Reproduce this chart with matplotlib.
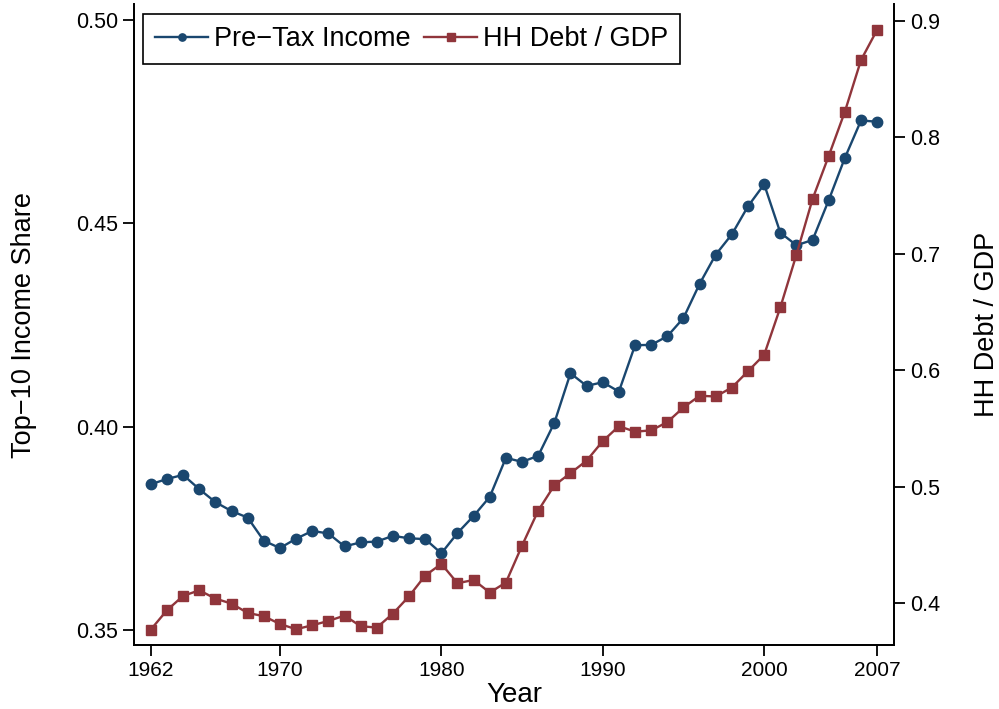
import numpy as np
import matplotlib.pyplot as plt

plt.rcParams['font.family'] = ['Liberation Sans', 'DejaVu Sans']

years = np.arange(1962, 2008)

# top-10 pre-tax income share (left axis)
income_share = [0.3858, 0.3871, 0.3881, 0.3846, 0.3814, 0.3792, 0.3776, 0.3719, 0.3701, 0.3724,
                0.3743, 0.3737, 0.3705, 0.3715, 0.3717, 0.3731, 0.3725, 0.3723, 0.3688, 0.3738,
                0.3780, 0.3827, 0.3923, 0.3913, 0.3928, 0.4009, 0.4131, 0.4100, 0.4109, 0.4086,
                0.4200, 0.4201, 0.4222, 0.4267, 0.4351, 0.4423, 0.4473, 0.4542, 0.4596, 0.4477,
                0.4446, 0.4459, 0.4557, 0.4661, 0.4753, 0.4750]

# household debt / GDP (right axis)
hh_debt = [0.3774, 0.3940, 0.4063, 0.4111, 0.4040, 0.3997, 0.3917, 0.3889, 0.3822, 0.3777,
           0.3811, 0.3848, 0.3894, 0.3803, 0.3791, 0.3911, 0.4060, 0.4238, 0.4338, 0.4172,
           0.4200, 0.4092, 0.4178, 0.4495, 0.4795, 0.5012, 0.5117, 0.5224, 0.5392, 0.5520,
           0.5473, 0.5484, 0.5555, 0.5681, 0.5781, 0.5775, 0.5852, 0.5992, 0.6133, 0.6539,
           0.6993, 0.7471, 0.7840, 0.8220, 0.8663, 0.8923]

xticks = [1962, 1970, 1980, 1990, 2000, 2007]
left_ticks = [0.35, 0.40, 0.45, 0.50]
right_ticks = [0.4, 0.5, 0.6, 0.7, 0.8, 0.9]

navy = '#1a476f'
maroon = '#90353b'

fig = plt.figure(figsize=(9.99, 7.09), dpi=100)
ax = fig.add_axes([0.134, 0.090, 0.761, 0.904])
ax2 = ax.twinx()

l1, = ax.plot(years, income_share, color=navy, lw=1.7, marker='o', ms=7.5,
              label='Pre\u2212Tax Income')
l2, = ax2.plot(years, hh_debt, color=maroon, lw=1.7, marker='s', ms=7.5,
               label='HH Debt / GDP')

ax.set_xlim(1960.95, 2008.05)
ax.set_ylim(0.3462, 0.5039)
ax2.set_ylim(0.364, 0.9142)

ax.set_xticks(xticks)
ax.set_yticks(left_ticks)
ax.set_yticklabels(['%.2f' % t for t in left_ticks])
ax2.set_yticks(right_ticks)
ax2.set_yticklabels(['%.1f' % t for t in right_ticks])

for a in (ax, ax2):
    a.tick_params(direction='out', length=8, width=1.3, labelsize=15.5, colors='black')
    a.tick_params(axis='x', labelsize=15)
    a.spines['top'].set_visible(False)
    for s in a.spines.values():
        s.set_linewidth(1.3)

ax.set_xlabel('Year', fontsize=20, labelpad=1)
ax.set_ylabel('Top\u221210 Income Share', fontsize=19.5, labelpad=28)
ax2.set_ylabel('HH Debt / GDP', fontsize=19.5, labelpad=24)

leg = ax.legend(handles=[l1, l2], loc='upper left', ncol=2, fontsize=19.5,
                frameon=True, fancybox=False, edgecolor='black', framealpha=1,
                markerscale=0.7, handlelength=1.95, handletextpad=0.22,
                columnspacing=0.5, borderpad=0.45, borderaxespad=0,
                bbox_to_anchor=(0.012, 0.985))
leg.get_frame().set_linewidth(1.2)

fig.savefig('out.png', dpi=100)
